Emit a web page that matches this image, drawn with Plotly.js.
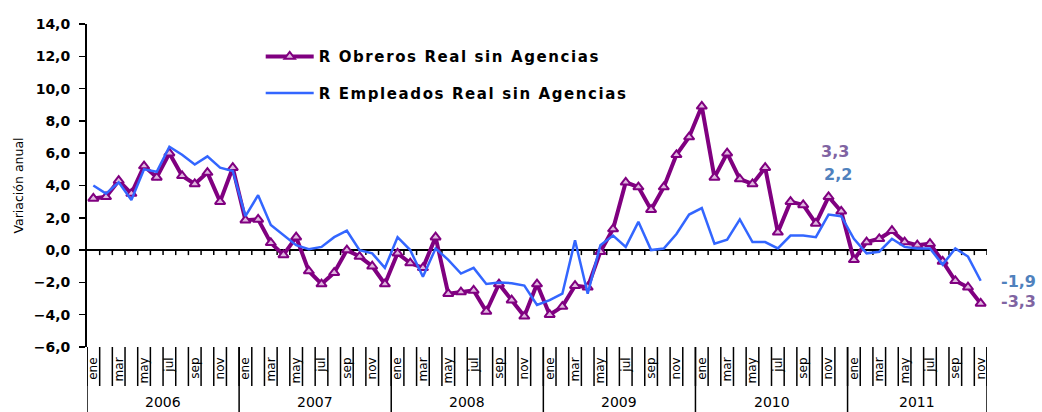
<!DOCTYPE html>
<html>
<head>
<meta charset="utf-8">
<script src="https://cdn.plot.ly/plotly-3.0.1.min.js"></script>
<style>
  html, body { margin: 0; padding: 0; background: #fff; }
  #chart { width: 1042px; height: 412px; }
  .legendtext { letter-spacing: 1.6px; }
</style>
</head>
<body>
<div id="chart"></div>
<script>
// ---- data ----
const months = ['ene','feb','mar','abr','may','jun','jul','ago','sep','oct','nov','dic'];
const years = ['2006','2007','2008','2009','2010','2011'];
const monthsInLastYear = 11;

const obreros = [3.2, 3.3, 4.3, 3.5, 5.2, 4.5, 6.0, 4.6, 4.1, 4.8, 3.0, 5.1,
  1.85, 1.9, 0.45, -0.3, 0.8, -1.3, -2.1, -1.4, 0.0, -0.4, -1.0, -2.1,
  -0.2, -0.8, -1.1, 0.8, -2.7, -2.6, -2.5, -3.8, -2.1, -3.1, -4.1, -2.1,
  -4.0, -3.5, -2.2, -2.3, -0.1, 1.3, 4.2, 3.9, 2.5, 3.9, 5.9, 7.0,
  8.9, 4.5, 6.0, 4.4, 4.1, 5.1, 1.1, 3.0, 2.8, 1.65, 3.3, 2.4,
  -0.6, 0.5, 0.7, 1.2, 0.5, 0.3, 0.4, -0.7, -1.9, -2.3, -3.3];

const empleados = [4.0, 3.5, 4.2, 3.1, 5.0, 4.85, 6.4, 5.9, 5.3, 5.8, 5.1, 4.9,
  2.1, 3.4, 1.55, 0.9, 0.3, 0.05, 0.2, 0.8, 1.2, 0.0, -0.2, -1.1,
  0.8, 0.0, -1.65, 0.1, -0.6, -1.45, -1.1, -2.1, -2.0, -2.05, -2.2, -3.4,
  -3.1, -2.7, 0.6, -2.7, 0.3, 0.9, 0.2, 1.75, 0.0, 0.1, 1.0, 2.2,
  2.6, 0.4, 0.65, 1.9, 0.5, 0.5, 0.1, 0.9, 0.9, 0.8, 2.2, 2.1,
  0.7, -0.2, -0.1, 0.7, 0.2, 0.1, 0.1, -0.9, 0.1, -0.4, -1.9];

const seriesNames = ['R Obreros Real sin Agencias', 'R Empleados Real sin Agencias'];
const yRange = [-6, 14];
const labeledIndex = 58;   // nov 2010

// ---- derived ----
const categories = [];
const monthIdx = [];
const yearOf = [];
years.forEach((yr, yi) => {
  const cnt = (yi === years.length - 1) ? monthsInLastYear : 12;
  for (let m = 0; m < cnt; m++) { categories.push(months[m] + ' ' + yr); monthIdx.push(m); yearOf.push(yi); }
});
const n = categories.length;
const xs = categories.map((_, i) => i);
const monthTickVals = xs.filter(i => monthIdx[i] % 2 === 0);
const monthTickText = monthTickVals.map(i => months[monthIdx[i]]);
const boundaries = [];
for (let i = 0; i <= n; i++) boundaries.push(i - 0.5);
const yearBounds = xs.filter(i => monthIdx[i] === 0).map(i => i - 0.5).concat([n - 0.5]);
const yearCenters = years.map((_, yi) => {
  const idx = xs.filter(i => yearOf[i] === yi);
  return (idx[0] + idx[idx.length - 1]) / 2;
});
const fmt = v => v.toFixed(1).replace('.', ',');
const xr = [-0.5, n - 0.5];

const traces = [
  {
    x: xs, y: obreros, name: seriesNames[0], type: 'scatter', mode: 'lines+markers',
    line: { color: '#800080', width: 4 },
    marker: { symbol: 'triangle-up', size: 9, color: '#e0b8e0', line: { color: '#800080', width: 2 } },
    legendgroup: 'a'
  },
  {
    x: xs, y: empleados, name: seriesNames[1], type: 'scatter', mode: 'lines',
    line: { color: '#3366ff', width: 2.5 },
    legendgroup: 'b'
  }
];

// axis furniture as shapes (positions derived from the category boundaries)
const shapes = [];
shapes.push({ type: 'line', layer: 'below', xref: 'x', yref: 'y', x0: xr[0], x1: xr[1], y0: 0, y1: 0,
  line: { color: '#000', width: 2 } });
boundaries.slice(1).forEach(b => {
  shapes.push({ type: 'line', layer: 'below', xref: 'x', yref: 'y', ysizemode: 'pixel', yanchor: 0,
    x0: b, x1: b, y0: 0, y1: -5, line: { color: '#000', width: 1.5 } });
});
boundaries.forEach(b => {
  shapes.push({ type: 'line', xref: 'x', yref: 'paper', ysizemode: 'pixel', yanchor: 0,
    x0: b, x1: b, y0: 0, y1: -39, line: { color: '#000', width: 1.5 } });
});
yearBounds.forEach(b => {
  shapes.push({ type: 'line', xref: 'x', yref: 'paper', ysizemode: 'pixel', yanchor: 0,
    x0: b, x1: b, y0: 0, y1: -66, line: { color: '#000', width: 1.5 } });
});

const annotations = years.map((yr, yi) => ({
  x: yearCenters[yi], xref: 'x', y: 0, yref: 'paper', yanchor: 'middle', yshift: -55,
  text: yr, showarrow: false, font: { family: 'DejaVu Sans', size: 14, color: '#000' }
}));
annotations.push(
  { x: labeledIndex, y: obreros[labeledIndex], xref: 'x', yref: 'y', text: fmt(obreros[labeledIndex]),
    showarrow: false, xshift: 6, yshift: 45, font: { family: 'DejaVu Sans', size: 16, weight: 'bold', color: '#8064a2' } },
  { x: labeledIndex, y: empleados[labeledIndex], xref: 'x', yref: 'y', text: fmt(empleados[labeledIndex]),
    showarrow: false, xshift: 9, yshift: 40, font: { family: 'DejaVu Sans', size: 16, weight: 'bold', color: '#4f81bd' } },
  { x: n - 1, y: empleados[n - 1], xref: 'x', yref: 'y', text: fmt(empleados[n - 1]),
    showarrow: false, xshift: 38, yshift: -1, font: { family: 'DejaVu Sans', size: 16, weight: 'bold', color: '#4f81bd' } },
  { x: n - 1, y: obreros[n - 1], xref: 'x', yref: 'y', text: fmt(obreros[n - 1]),
    showarrow: false, xshift: 38, yshift: 2, font: { family: 'DejaVu Sans', size: 16, weight: 'bold', color: '#8064a2' } }
);

const layout = {
  width: 1042, height: 412,
  margin: { l: 87, r: 55, t: 24, b: 65, pad: 0 },
  paper_bgcolor: '#fff', plot_bgcolor: '#fff',
  separators: ',.',
  showlegend: true,
  legend: {
    x: 0.193, y: 0.95, xanchor: 'left', yanchor: 'top',
    bgcolor: 'rgba(0,0,0,0)', borderwidth: 0,
    font: { family: 'DejaVu Sans', size: 15, weight: 'bold', color: '#000' },
    tracegroupgap: 14, itemwidth: 48
  },
  xaxis: {
    range: xr, showgrid: false, zeroline: false, showline: false, fixedrange: true,
    tickmode: 'array', tickvals: monthTickVals, ticktext: monthTickText,
    tickangle: -90, ticks: '', ticklabelstandoff: 7,
    tickfont: { family: 'DejaVu Sans', size: 12, color: '#000' }
  },
  yaxis: {
    range: yRange, dtick: 2, tick0: 0, tickformat: '.1f',
    showgrid: false, zeroline: false, showline: true, linewidth: 2, linecolor: '#000',
    ticks: 'outside', ticklen: 6, tickwidth: 1.5, tickcolor: '#000', ticklabelstandoff: 6,
    tickfont: { family: 'DejaVu Sans', size: 14, weight: 'bold', color: '#000' },
    title: { text: 'Variación anual', standoff: 7, font: { family: 'DejaVu Sans', size: 12.5, color: '#000' } },
    automargin: false, fixedrange: true
  },
  shapes: shapes,
  annotations: annotations
};

Plotly.newPlot('chart', traces, layout, { staticPlot: true, displayModeBar: false });
</script>
</body>
</html>
